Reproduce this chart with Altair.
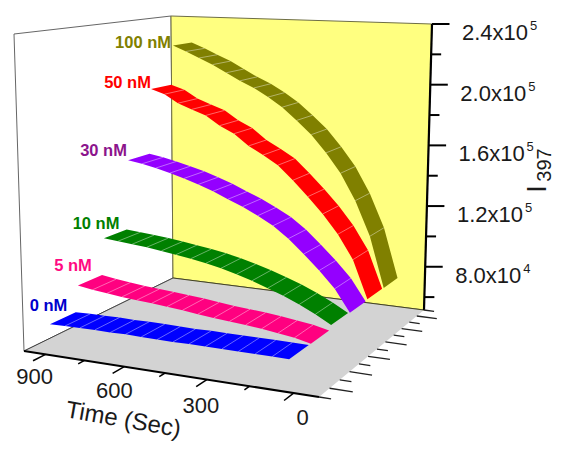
import altair as alt

SERIES = ["0 nM", "5 nM", "10 nM", "30 nM", "50 nM", "100 nM"]
RIBBON = ["#0000FF", "#FF0080", "#008000", "#9400FF", "#FF0000", "#808000"]
LABELC = ["#0000CC", "#FF0A82", "#008000", "#8C148C", "#FF0000", "#808000"]
LABEL_AT = [(48.5,311),(73,271),(96,229),(103.5,156),(127.5,88),(143,48)]

TIME_S = [20,77,135,193,250,308,366,424,481,539,597,654,712,770,827,885]
I_0 = [69000,69100,69200,69200,69300,69300,69400,69200,69300,69500,69700,69500,69700,69500,69400,69200]
I_5 = [68900,71000,72300,73500,74500,75300,76000,77000,78100,79000,79800,80500,81200,82200,83200,84700]
I_10 = [71300,76400,81000,85000,88300,91600,94400,96900,98900,100600,102000,103300,104500,105400,106300,107100]
I_30 = [70600,84000,94000,103000,111500,118500,123800,128500,132300,136500,140000,143000,145600,148000,150000,151600]
I_50 = [71200,94900,109900,121800,131900,141500,150400,156200,161400,168700,173300,179400,182800,186300,191800,194700]
I_100 = [70900,103300,125500,142600,155200,166500,175300,183500,189700,195300,199600,204600,209700,213800,217900,221700]
INT = [I_0,I_5,I_10,I_30,I_50,I_100]

TMIN, TMAX = -85.0, 985.0
IMIN, IMAX = 51500.0, 240000.0
DMIN, DMAX = -0.5, 5.5
HALF = 0.45

def homog(q):
    (x0,y0),(x1,y1),(x2,y2),(x3,y3) = q
    dx1,dx2,sx = x1-x2, x3-x2, x0-x1+x2-x3
    dy1,dy2,sy = y1-y2, y3-y2, y0-y1+y2-y3
    det = dx1*dy2-dx2*dy1
    g = (sx*dy2-dx2*sy)/det
    h = (dx1*sy-sx*dy1)/det
    a,b,c = x1-x0+g*x1, x3-x0+h*x3, x0
    d,e,f = y1-y0+g*y1, y3-y0+h*y3, y0
    def H(s,r):
        w = g*s+h*r+1
        return (a*s+b*r+c)/w, (d*s+e*r+f)/w
    return H

FLOOR = homog([(24,351),(319,397),(424,310),(173,278)])
TOP = homog([(14,34),(327,48),(432,24),(171,16)])

def P(t, i, v):
    s = (TMAX-t)/(TMAX-TMIN)
    r = (i-DMIN)/(DMAX-DMIN)
    fx,fy = FLOOR(s,r)
    tx,ty = TOP(s,r)
    z = (v-IMIN)/(IMAX-IMIN)
    return fx+(tx-fx)*z, fy+(ty-fy)*z

def poly(pts, fill, stroke="none", sw=0):
    return {"type":"Feature","geometry":{"type":"Polygon","coordinates":[[list(p) for p in pts+[pts[0]]]]},
            "properties":{"fill":fill,"stroke":stroke,"sw":sw}}
def line(pts, stroke, sw, op=1):
    return {"type":"Feature","geometry":{"type":"LineString","coordinates":[list(p) for p in pts]},
            "properties":{"stroke":stroke,"sw":sw,"op":op}}

def polys(feats):
    return alt.Chart(alt.Data(values=feats)).mark_geoshape().encode(
        fill=alt.Color("properties.fill:N",scale=None),
        stroke=alt.Stroke("properties.stroke:N",scale=None),
        strokeWidth=alt.StrokeWidth("properties.sw:Q",scale=None))
def lines(feats):
    return alt.Chart(alt.Data(values=feats)).mark_geoshape(filled=False).encode(
        stroke=alt.Stroke("properties.stroke:N",scale=None),
        strokeWidth=alt.StrokeWidth("properties.sw:Q",scale=None),
        opacity=alt.Opacity("properties.op:Q",scale=None))
def texts(rows, **kw):
    return alt.Chart(alt.Data(values=rows)).mark_text(font="Liberation Sans", **kw).encode(
        longitude="lon:Q", latitude="lat:Q", text="txt:N",
        color=alt.Color("col:N",scale=None))

L,R = TMAX,TMIN
walls = [
 poly([P(L,DMIN,IMIN),P(L,DMAX,IMIN),P(L,DMAX,IMAX),P(L,DMIN,IMAX)],"#FFFFFF","#666666",1),
 poly([P(L,DMAX,IMIN),P(R,DMAX,IMIN),P(R,DMAX,IMAX),P(L,DMAX,IMAX)],"#FFFF80","#6E6E46",1),
 poly([P(L,DMIN,IMIN),P(R,DMIN,IMIN),P(R,DMAX,IMIN),P(L,DMAX,IMIN)],"#D3D3D3","none",0),
]
axes = [
 line([P(L,DMIN,IMIN),P(L,DMAX,IMIN)],"#444444",1),
 line([P(L,DMAX,IMIN),P(R,DMAX,IMIN)],"#444422",1),
 line([P(L,DMIN,IMIN),P(R,DMIN,IMIN)],"#000000",2),
 line([P(R,DMAX,IMIN),P(R,DMAX,IMAX)],"#000000",2.2),
]
TMAJOR = [900,600,300,0]
TMINOR = [750,450,150]
for t in TMAJOR: axes.append(line([P(t,DMIN,IMIN),P(t,DMIN-0.42,IMIN)],"#000000",1.5))
for t in TMINOR: axes.append(line([P(t,DMIN,IMIN),P(t,DMIN-0.22,IMIN)],"#000000",1.5))
for d in range(6): axes.append(line([P(R,d,IMIN),P(R-78,d,IMIN)],"#222222",1.3))
for d in [x+0.5 for x in range(-1,6)]: axes.append(line([P(R,d,IMIN),P(R-40,d,IMIN)],"#222222",1.3))
ZMAJOR = [80000,120000,160000,200000,240000]
ZMINOR = [60000,100000,140000,180000,220000]
for v in ZMAJOR:
    x,y = P(R,DMAX,v); axes.append(line([(x,y),(x+17.5,y)],"#000000",2))
for v in ZMINOR:
    x,y = P(R,DMAX,v); axes.append(line([(x,y),(x+10,y)],"#000000",2))

layers = [polys(walls), lines(axes)]
for i in range(5,-1,-1):
    front = [P(t,i-HALF,v) for t,v in zip(TIME_S,INT[i])]
    back = [P(t,i+HALF,v) for t,v in zip(TIME_S,INT[i])]
    layers.append(polys([poly(front+back[::-1],RIBBON[i])]))
    seps = [line([P(t,i-HALF,v),P(t,i+HALF,v)],"#FFFFFF",1,0.4) for t,v in zip(TIME_S[1:-1],INT[i][1:-1])]
    layers.append(lines(seps))

for i,s in enumerate(SERIES):
    layers.append(texts([{"lon":LABEL_AT[i][0],"lat":LABEL_AT[i][1],"txt":s,"col":LABELC[i]}],
                        fontSize=16.5,fontWeight="bold",align="center",baseline="alphabetic"))

INK = "#1a1a1a"
rows = []
for t,dx,dy in zip(TMAJOR,[-11,-10,-6,9],[23,24,26,25]):
    x,y = P(t,DMIN,IMIN)
    rows.append({"lon":x+dx,"lat":y+dy+7,"txt":str(t),"col":INK})
layers.append(texts(rows,fontSize=22,align="center",baseline="alphabetic"))
rows,sup = [],[]
for v,txt,e in zip(ZMAJOR,["8.0x10","1.2x10","1.6x10","2.0x10","2.4x10"],["4","5","5","5","5"]):
    x,y = P(R,DMAX,v)
    rows.append({"lon":x+30,"lat":y+16,"txt":txt,"col":INK})
    sup.append({"lon":x+98,"lat":y+6,"txt":e,"col":INK})
layers.append(texts(rows,fontSize=22,align="left",baseline="alphabetic"))
layers.append(texts(sup,fontSize=13,align="left",baseline="alphabetic"))
layers.append(texts([{"lon":122,"lat":427,"txt":"Time (Sec)","col":INK}],fontSize=24,align="center",baseline="alphabetic",angle=10))
layers.append(texts([{"lon":546,"lat":189,"txt":"I","col":INK}],fontSize=27,align="center",baseline="alphabetic",angle=270))
layers.append(texts([{"lon":551,"lat":165,"txt":"397","col":INK}],fontSize=20,align="center",baseline="alphabetic",angle=270))

chart = alt.layer(*layers).project(type="identity",scale=1,translate=[-8,-8]).properties(
    width=548,height=435,padding=0).configure_view(stroke=None)
chart.save("out.html", embed_options={"renderer":"svg","actions":False})
